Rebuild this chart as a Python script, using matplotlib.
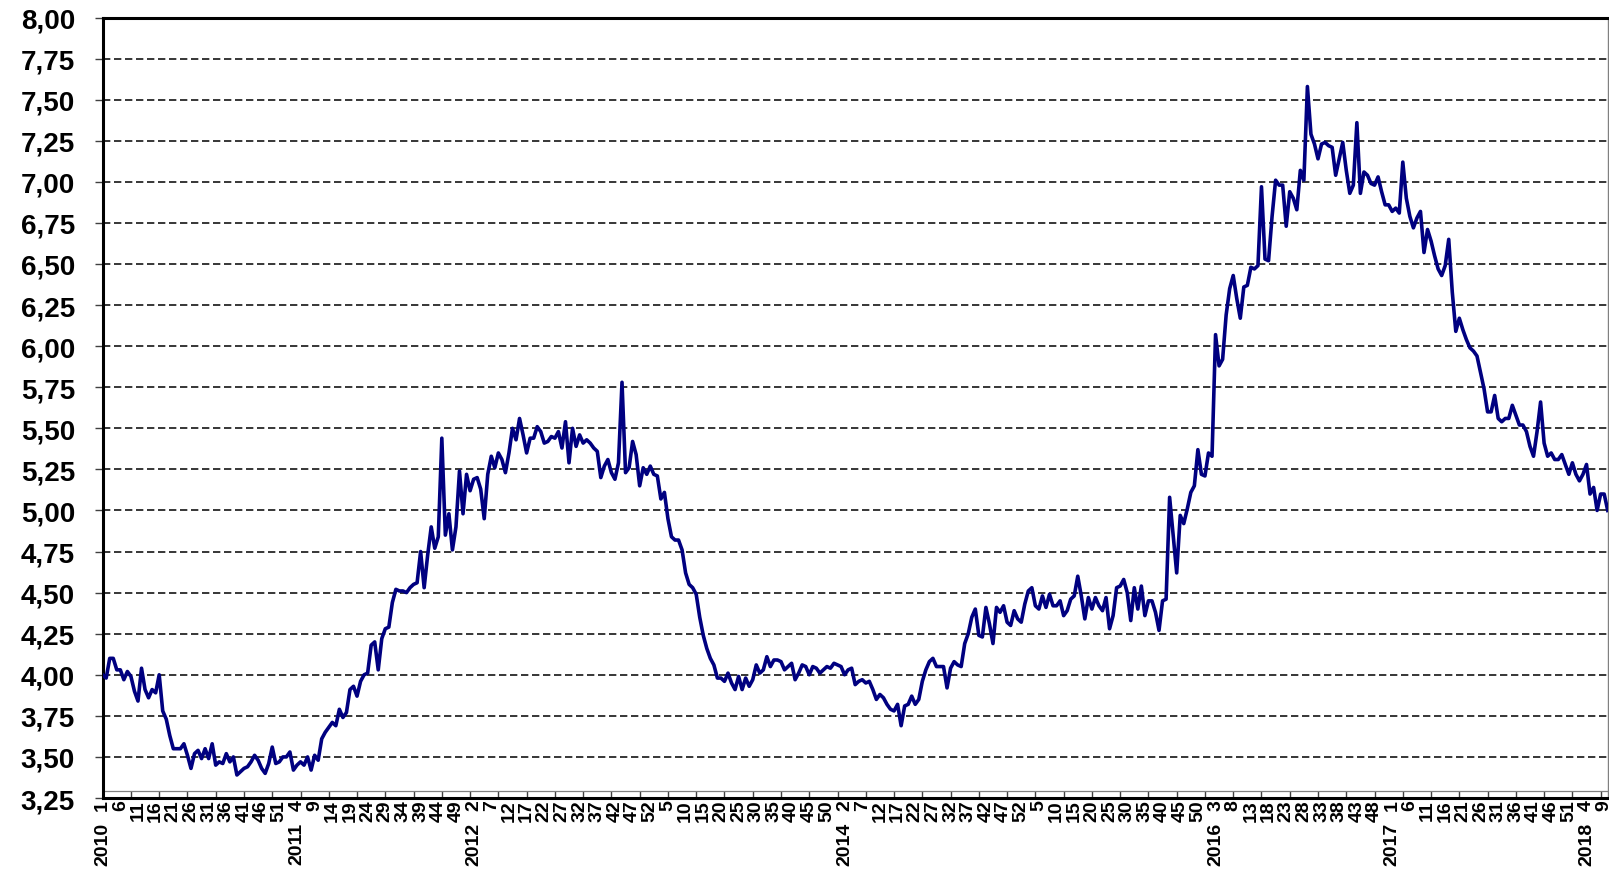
import numpy as np
import matplotlib
matplotlib.use('Agg')
import matplotlib.pyplot as plt
import matplotlib.transforms as mtransforms
from matplotlib.ticker import FixedLocator, FuncFormatter, NullFormatter

plt.rcParams['font.family'] = ['Liberation Sans', 'DejaVu Sans']
plt.rcParams['font.weight'] = 'bold'

# weekly values, one list per year (week 1 first)
y2010 = [4.00, 3.98, 4.10, 4.10, 4.03, 4.03, 3.97, 4.02, 3.99, 3.90, 3.84, 4.04, 3.91,
         3.86, 3.91, 3.89, 4.00, 3.78, 3.73, 3.63, 3.55, 3.55, 3.55, 3.58, 3.51, 3.43,
         3.52, 3.54, 3.49, 3.55, 3.49, 3.58, 3.45, 3.47, 3.46, 3.52, 3.47, 3.50, 3.39,
         3.41, 3.43, 3.44, 3.47, 3.51, 3.48, 3.43, 3.40, 3.46, 3.56, 3.46, 3.47, 3.50]
y2011 = [3.50, 3.53, 3.42, 3.45, 3.47, 3.45, 3.50, 3.42, 3.51, 3.48, 3.61, 3.65, 3.68,
         3.71, 3.69, 3.79, 3.74, 3.77, 3.91, 3.93, 3.87, 3.96, 4.00, 4.01, 4.18, 4.20,
         4.03, 4.22, 4.28, 4.29, 4.44, 4.52, 4.51, 4.51, 4.50, 4.53, 4.55, 4.56, 4.75,
         4.53, 4.73, 4.90, 4.77, 4.84, 5.44, 4.85, 4.98, 4.76, 4.90, 5.24, 4.98, 5.22]
y2012 = [5.12, 5.19, 5.20, 5.13, 4.95, 5.22, 5.33, 5.26, 5.35, 5.31, 5.23, 5.35, 5.50,
         5.43, 5.56, 5.46, 5.35, 5.44, 5.44, 5.51, 5.48, 5.41, 5.42, 5.45, 5.44, 5.48,
         5.38, 5.54, 5.29, 5.50, 5.39, 5.46, 5.41, 5.43, 5.41, 5.38, 5.36, 5.20, 5.27,
         5.31, 5.23, 5.19, 5.29, 5.78, 5.23, 5.26, 5.42, 5.34, 5.15, 5.26, 5.22, 5.27]
y2013 = [5.22, 5.21, 5.07, 5.11, 4.95, 4.84, 4.82, 4.82, 4.76, 4.62, 4.55, 4.53, 4.49,
         4.35, 4.24, 4.16, 4.10, 4.06, 3.98, 3.98, 3.96, 4.01, 3.95, 3.91, 3.99, 3.91,
         3.98, 3.93, 3.97, 4.06, 4.01, 4.03, 4.11, 4.05, 4.09, 4.09, 4.08, 4.03, 4.05,
         4.07, 3.97, 4.01, 4.06, 4.05, 4.00, 4.05, 4.04, 4.01, 4.03, 4.05, 4.04, 4.07,
         4.06]
y2014 = [4.05, 4.00, 4.03, 4.04, 3.94, 3.96, 3.97, 3.95, 3.96, 3.91, 3.85, 3.88, 3.86,
         3.82, 3.79, 3.78, 3.82, 3.69, 3.81, 3.82, 3.87, 3.82, 3.85, 3.96, 4.03, 4.08,
         4.10, 4.05, 4.05, 4.05, 3.92, 4.04, 4.08, 4.06, 4.05, 4.19, 4.25, 4.35, 4.40,
         4.24, 4.23, 4.41, 4.31, 4.19, 4.41, 4.38, 4.42, 4.32, 4.30, 4.39, 4.34, 4.32]
y2015 = [4.43, 4.51, 4.53, 4.42, 4.40, 4.48, 4.41, 4.49, 4.42, 4.42, 4.45, 4.36, 4.39,
         4.46, 4.48, 4.60, 4.48, 4.34, 4.47, 4.40, 4.47, 4.42, 4.39, 4.47, 4.28, 4.36,
         4.53, 4.54, 4.58, 4.50, 4.33, 4.53, 4.40, 4.54, 4.36, 4.45, 4.45, 4.38, 4.27,
         4.45, 4.46, 5.08, 4.85, 4.62, 4.97, 4.92, 5.01, 5.11, 5.15, 5.37, 5.22, 5.21]
y2016 = [5.35, 5.33, 6.07, 5.88, 5.92, 6.19, 6.35, 6.43, 6.29, 6.17, 6.36, 6.37, 6.48,
         6.47, 6.49, 6.97, 6.53, 6.52, 6.79, 7.01, 6.98, 6.98, 6.73, 6.94, 6.90, 6.83,
         7.07, 7.01, 7.58, 7.29, 7.23, 7.14, 7.23, 7.24, 7.22, 7.21, 7.04, 7.14, 7.24,
         7.07, 6.93, 6.98, 7.36, 6.93, 7.06, 7.04, 6.99, 6.98, 7.03, 6.94, 6.86, 6.86]
y2017 = [6.82, 6.84, 6.81, 7.12, 6.90, 6.79, 6.72, 6.78, 6.82, 6.57, 6.71, 6.64, 6.55,
         6.47, 6.43, 6.49, 6.65, 6.33, 6.09, 6.17, 6.10, 6.04, 5.99, 5.97, 5.94, 5.84,
         5.74, 5.60, 5.60, 5.70, 5.56, 5.54, 5.56, 5.56, 5.64, 5.58, 5.52, 5.52, 5.48,
         5.39, 5.33, 5.48, 5.66, 5.41, 5.33, 5.35, 5.31, 5.31, 5.34, 5.28, 5.22, 5.29]
y2018 = [5.22, 5.18, 5.22, 5.28, 5.10, 5.14, 5.00, 5.10, 5.10, 5.00]

years = [2010, 2011, 2012, 2013, 2014, 2015, 2016, 2017, 2018]
per_year = [y2010, y2011, y2012, y2013, y2014, y2015, y2016, y2017, y2018]
shown_years = [2010, 2011, 2012, 2014, 2016, 2017, 2018]

values = []
week_no = []
year_of = []
for yr, vals in zip(years, per_year):
    values += vals
    week_no += list(range(1, len(vals) + 1))
    year_of += [yr] * len(vals)
x = np.arange(len(values))

fig = plt.figure(figsize=(16.09, 8.70), dpi=100)
ax = fig.add_axes([0.0638, 0.0816, 0.9354, 0.8971])

# dashed grid
for yv in np.arange(3.5, 7.76, 0.25):
    ax.axhline(yv, color='black', lw=1.1, ls=(0, (4.8, 2.4)), zorder=1)

ax.plot(x, values, color='#000080', lw=2.6, solid_joinstyle='round', zorder=3)

ax.set_xlim(0, len(values) - 1)
ax.set_ylim(3.25, 8.0)
ax.set_yticks(np.arange(3.25, 8.001, 0.25))
ax.yaxis.set_major_formatter(FuncFormatter(lambda v, p: f'{v:.2f}'.replace('.', ',')))
ax.tick_params(axis='y', direction='out', length=6, width=1, pad=14, labelsize=20,
               color='#404040')

# x axis: tick marks every 8 weeks, week labels every 5 weeks
lab_pos = x[::5]
ax.xaxis.set_major_locator(FixedLocator(np.arange(0, len(values), 8)))
ax.xaxis.set_major_formatter(NullFormatter())
ax.xaxis.set_minor_locator(FixedLocator(lab_pos))
ax.xaxis.set_minor_formatter(FuncFormatter(lambda v, p: str(week_no[int(round(v))])))
ax.xaxis.remove_overlapping_locs = False
ax.tick_params(axis='x', which='major', direction='in', length=5, width=1, color='#404040')
ax.tick_params(axis='x', which='minor', length=0, pad=1, labelsize=14, labelrotation=90)

# thin line at top of the x tick marks
tr = mtransforms.offset_copy(ax.get_xaxis_transform(), fig=fig, y=7, units='dots')
ax.plot([0, len(values) - 1], [0, 0], color='#808080', lw=0.9, transform=tr, clip_on=False)

# year labels under the first labelled week of the year
for yr in shown_years:
    idx = [p for p in lab_pos if year_of[p] == yr][0]
    ax.annotate(str(yr), xy=(idx, 0), xycoords=ax.get_xaxis_transform(),
                xytext=(0, -24), textcoords='offset pixels', rotation=90,
                ha='center', va='top', fontsize=14, fontweight='bold')

for s in ['top', 'left', 'bottom']:
    ax.spines[s].set_linewidth(2.2)
    ax.spines[s].set_color('black')
ax.spines['right'].set_linewidth(1)
ax.spines['right'].set_color('#808080')

fig.savefig('out.png', dpi=100)
